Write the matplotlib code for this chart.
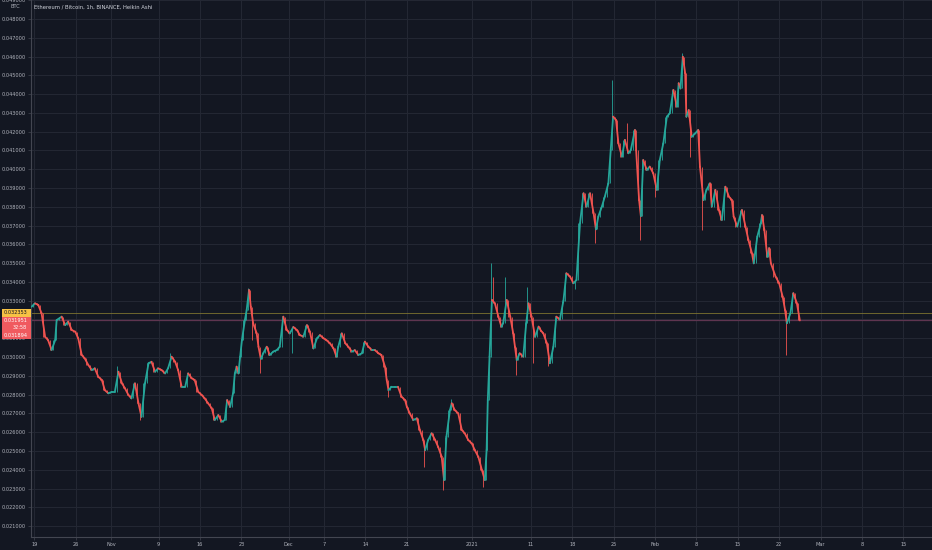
import matplotlib
matplotlib.use("Agg")
import matplotlib.pyplot as plt
import matplotlib.dates as mdates
import matplotlib.transforms as mtransforms
from matplotlib.patches import Rectangle
from matplotlib.collections import LineCollection
import numpy as np
import pandas as pd

# ---------------- data ----------------
start_date = "2020-10-19"
# time offsets (days since start) and closing prices of the sampled candles
days = [-0.5, 0.1, 0.65, 1.2, 1.8, 2.3, 2.9, 3.5, 3.75, 4.6, 5.2, 5.7, 6.3, 6.9, 7.4, 8.0, 8.5, 9.1, 9.7,
        10.2, 10.8, 11.4, 11.9, 12.5, 13.1, 13.6, 14.2, 14.8, 15.3, 15.9, 16.4, 17.0, 17.6, 18.1, 18.7,
        19.3, 19.8, 20.4, 20.9, 21.5, 22.1, 22.6, 23.2, 23.8, 24.3, 24.9, 25.5, 26.0, 26.6, 27.1, 27.7,
        28.3, 28.8, 29.4, 30.0, 30.5, 31.1, 31.7, 32.2, 32.6, 33.1, 33.6, 33.9, 34.2, 34.5, 34.8, 35.1,
        35.6, 35.9, 36.3, 36.6, 37.0, 37.6, 37.9, 38.3, 38.7, 39.3, 39.8, 40.4, 41.0, 41.5, 42.1, 42.7,
        43.2, 43.8, 44.4, 44.9, 45.5, 46.1, 46.6, 47.2, 47.8, 48.3, 48.9, 49.4, 50.0, 50.6, 51.1, 51.4,
        52.0, 52.6, 53.1, 53.7, 54.2, 54.8, 55.4, 55.9, 56.5, 57.1, 57.6, 58.2, 58.7, 59.3, 59.6, 59.9,
        60.4, 61.0, 61.5, 62.1, 62.7, 63.0, 63.5, 64.1, 64.7, 65.2, 65.8, 66.1, 66.6, 67.2, 67.8, 68.3,
        68.9, 69.3, 69.7, 70.3, 70.6, 71.1, 71.7, 72.3, 72.8, 73.4, 74.0, 74.5, 75.1, 75.7, 76.2, 76.5,
        76.7, 77.0, 77.4, 77.9, 78.5, 79.0, 79.3, 79.9, 80.5, 81.0, 81.3, 81.6, 82.1, 82.7, 83.2, 83.6,
        84.1, 84.7, 85.3, 85.7, 86.1, 86.7, 87.2, 87.8, 88.3, 88.9, 89.5, 90.0, 90.6, 91.2, 91.7, 92.3,
        92.9, 93.4, 94.0, 94.6, 95.0, 95.4, 96.0, 96.5, 97.1, 97.5, 97.9, 98.4, 98.8, 99.4, 99.9, 100.5,
        100.9, 101.6, 101.8, 102.3, 102.6, 103.0, 103.6, 104.1, 104.7, 105.3, 105.8, 106.4, 107.0, 107.5,
        108.1, 108.7, 109.0, 109.3, 109.7, 110.1, 110.3, 110.7, 111.2, 111.8, 112.3, 112.6, 113.2, 113.7,
        114.3, 114.6, 115.2, 115.8, 116.3, 116.9, 117.5, 118.0, 118.3, 118.9, 119.7, 120.3, 120.8, 121.4,
        121.7, 122.3, 122.9, 123.1, 123.5, 124.0, 124.3, 124.6, 125.4, 126.0, 126.6, 127.0, 127.3, 127.9,
        128.4, 129.0, 129.5]
closes = [0.03268, 0.03286, 0.03277, 0.03233, 0.03108, 0.03090, 0.03038, 0.03090, 0.03197, 0.03215,
          0.03170, 0.03189, 0.03144, 0.03135, 0.03100, 0.03011, 0.02993, 0.02958, 0.02931, 0.02940,
          0.02895, 0.02878, 0.02824, 0.02807, 0.02815, 0.02815, 0.02922, 0.02860, 0.02834, 0.02798,
          0.02780, 0.02860, 0.02753, 0.02682, 0.02860, 0.02967, 0.02975, 0.02922, 0.02940, 0.02931,
          0.02913, 0.02940, 0.03002, 0.02975, 0.02931, 0.02842, 0.02842, 0.02913, 0.02887, 0.02878,
          0.02815, 0.02798, 0.02780, 0.02753, 0.02727, 0.02665, 0.02691, 0.02656, 0.02665, 0.02771,
          0.02735, 0.02807, 0.02913, 0.02949, 0.02913, 0.03002, 0.03090, 0.03197, 0.03250, 0.03357,
          0.03268, 0.03180, 0.03126, 0.03055, 0.02990, 0.03020, 0.03055, 0.03011, 0.03029, 0.03037,
          0.03055, 0.03215, 0.03144, 0.03126, 0.03160, 0.03144, 0.03117, 0.03109, 0.03170, 0.03135,
          0.03046, 0.03100, 0.03117, 0.03100, 0.03090, 0.03073, 0.03046, 0.03002, 0.03055, 0.03126,
          0.03073, 0.03055, 0.03029, 0.03037, 0.03011, 0.03020, 0.03082, 0.03055, 0.03037, 0.03037,
          0.03020, 0.03011, 0.02949, 0.02878, 0.02824, 0.02842, 0.02842, 0.02842, 0.02789, 0.02771,
          0.02736, 0.02700, 0.02665, 0.02674, 0.02612, 0.02558, 0.02505, 0.02558, 0.02594, 0.02558,
          0.02522, 0.02469, 0.02345, 0.02576, 0.02718, 0.02754, 0.02718, 0.02700, 0.02612, 0.02594,
          0.02558, 0.02540, 0.02505, 0.02469, 0.02399, 0.02345, 0.02505, 0.02771, 0.03002, 0.03304,
          0.03286, 0.03215, 0.03162, 0.03180, 0.03304, 0.03215, 0.03126, 0.03055, 0.02984, 0.03020,
          0.03002, 0.03180, 0.03286, 0.03215, 0.03108, 0.03162, 0.03140, 0.03126, 0.03073, 0.02967,
          0.03055, 0.03215, 0.03200, 0.03300, 0.03446, 0.03429, 0.03393, 0.03410, 0.03712, 0.03872,
          0.03801, 0.03872, 0.03766, 0.03680, 0.03748, 0.03801, 0.03854, 0.03925, 0.04102, 0.04280,
          0.04262, 0.04138, 0.04067, 0.04156, 0.04085, 0.04102, 0.04209, 0.04102, 0.03836, 0.03750,
          0.04049, 0.03996, 0.04014, 0.03978, 0.03890, 0.04049, 0.04138, 0.04280, 0.04298, 0.04422,
          0.04333, 0.04458, 0.04430, 0.04599, 0.04511, 0.04280, 0.04315, 0.04173, 0.04191, 0.04209,
          0.04014, 0.03836, 0.03890, 0.03925, 0.03801, 0.03890, 0.03783, 0.03730, 0.03907, 0.03854,
          0.03836, 0.03748, 0.03695, 0.03783, 0.03695, 0.03623, 0.03552, 0.03499, 0.03641, 0.03712,
          0.03756, 0.03676, 0.03534, 0.03580, 0.03499, 0.03428, 0.03393, 0.03321, 0.03250, 0.03180,
          0.03233, 0.03340, 0.03286, 0.03195]
# wick extremes seen in the picture
spike_days = [14.2, 18.1, 23.2, 36.3, 37.0, 38.3, 43.8, 59.9, 66.1, 69.3, 70.6, 76.2, 77.4, 77.9,
              79.9, 81.6, 83.6, 84.7, 87.2, 91.7, 95.0, 97.9, 100.5, 102.6, 105.3, 109.7, 111.2,
              113.2, 127.3]
spike_vals = [0.02950, 0.02665, 0.03020, 0.03370, 0.03090, 0.02913, 0.03020, 0.02789, 0.02416,
              0.02292, 0.02775, 0.02310, 0.03499, 0.03428, 0.03428, 0.02904, 0.03375, 0.02967,
              0.02950, 0.03360, 0.03606, 0.04475, 0.04245, 0.03623, 0.03850, 0.04620, 0.04067,
              0.03676, 0.03011]
y_ticks = [0.021, 0.022, 0.023, 0.024, 0.025, 0.026, 0.027, 0.028, 0.029, 0.030, 0.031, 0.032,
           0.033, 0.034, 0.035, 0.036, 0.037, 0.038, 0.039, 0.040, 0.041, 0.042, 0.043, 0.044,
           0.045, 0.046, 0.047, 0.048, 0.049]
hidden_y_labels = [0.032]  # covered by the price boxes in the reference
x_tick_dates = ["2020-10-19", "2020-10-26", "2020-11-01", "2020-11-09", "2020-11-16", "2020-11-23",
                "2020-12-01", "2020-12-07", "2020-12-14", "2020-12-21", "2021-01-01", "2021-01-11",
                "2021-01-18", "2021-01-25", "2021-02-01", "2021-02-08", "2021-02-15", "2021-02-22",
                "2021-03-01", "2021-03-08", "2021-03-15"]
x_tick_labels = ["19", "26", "Nov", "9", "16", "23", "Dec", "7", "14", "21", "2021", "11", "18",
                 "25", "Feb", "8", "15", "22", "Mar", "8", "15"]
title = "Ethereum / Bitcoin, 1h, BINANCE, Heikin Ashi"
unit_label = "BTC"
mark_price = 0.032353
last_price = 0.031951
last_low = 0.031894
countdown = "32:58"

# ---------------- style ----------------
BG = "#131722"
GRID = "#242834"
TXT = "#b2b5be"
UP = "#26a69a"
DN = "#ef5350"

W, H = 932, 550
fig = plt.figure(figsize=(W / 100, H / 100), dpi=100, facecolor=BG)
ax = fig.add_axes([31 / W, 13 / H, 1 - 31 / W, 1 - 13 / H], facecolor=BG)

t0 = pd.Timestamp(start_date)
xs = mdates.date2num(t0 + pd.to_timedelta(np.array(days), unit="D"))
cl = np.array(closes)
n = len(cl)

# candle highs/lows from bodies plus observed spikes
hi = np.maximum(cl[1:], cl[:-1]).copy()
lo = np.minimum(cl[1:], cl[:-1]).copy()
sx = mdates.date2num(t0 + pd.to_timedelta(np.array(spike_days), unit="D"))
for d, v in zip(sx, spike_vals):
    i = int(np.argmin(np.abs(xs[1:] - d)))
    hi[i] = max(hi[i], v)
    lo[i] = min(lo[i], v)

cols = [UP if cl[i] >= cl[i - 1] else DN for i in range(1, n)]
# wicks
xm = (xs[1:] + xs[:-1]) / 2
ax.vlines(xm, lo, hi, colors=cols, linewidth=0.6, zorder=3)
# bodies drawn as a continuous jagged trace (open -> close of each candle)
segs = [[(xs[i - 1], cl[i - 1]), (xs[i], cl[i])] for i in range(1, n)]
ax.add_collection(LineCollection(segs, colors=cols, linewidths=1.3, zorder=4, capstyle="round"))

# limits
ax.set_xlim(mdates.date2num(t0 - pd.Timedelta(days=0.59)), mdates.date2num(t0 + pd.Timedelta(days=151.86)))
ax.set_ylim(0.02042, 0.04901)

ax.set_yticks(y_ticks)
ax.set_yticklabels(["" if any(abs(v - h) < 1e-9 for h in hidden_y_labels) else f"{v:.6f}" for v in y_ticks])
ax.set_xticks(mdates.date2num(pd.to_datetime(x_tick_dates)))
ax.set_xticklabels(x_tick_labels)
ax.tick_params(axis="both", colors="#434651", labelcolor=TXT, labelsize=3.6, length=2, width=0.5, pad=1.5)
ax.grid(True, color=GRID, linewidth=0.7, zorder=0)
ax.set_axisbelow(True)
for s in ["top", "right"]:
    ax.spines[s].set_visible(False)
for s in ["left", "bottom"]:
    ax.spines[s].set_color("#434651")
    ax.spines[s].set_linewidth(0.8)

# price lines
ax.axhline(mark_price, color="#7d7330", linewidth=0.6, zorder=2)
ax.axhline(last_price, color="#5e3550", linewidth=0.9, zorder=2)

# price boxes on the axis (offsets in pixels)
tr = mtransforms.blended_transform_factory(fig.transFigure, ax.transData)
px = 0.001 / 18.78  # data units per pixel
ax.add_patch(Rectangle((2 / W, last_price - 18.6 * px), 29 / W, 22.6 * px,
                       transform=tr, facecolor="#f05a5f", edgecolor="none", clip_on=False, zorder=10))
ax.add_patch(Rectangle((2 / W, mark_price - 3.7 * px), 29 / W, 7.4 * px, transform=tr,
                       facecolor="#f7c244", edgecolor="none", clip_on=False, zorder=11))
ax.text(16 / W, mark_price, f"{mark_price:.6f}", transform=tr, ha="center", va="center",
        fontsize=3.6, color="#131722", zorder=12, clip_on=False)
ax.text(16 / W, last_price - 0.3 * px, f"{last_price:.6f}", transform=tr, ha="center", va="center",
        fontsize=3.6, color="white", zorder=12, clip_on=False)
ax.text(20 / W, last_price - 7.3 * px, countdown, transform=tr, ha="center", va="center",
        fontsize=3.6, color="white", zorder=12, clip_on=False)
ax.text(16 / W, last_price - 15 * px, f"{last_low:.6f}", transform=tr, ha="center", va="center",
        fontsize=3.6, color="white", zorder=12, clip_on=False)

fig.text(15 / W, 1 - 7 / H, unit_label, ha="center", va="center", fontsize=3.6, color=TXT)
fig.text(34 / W, 1 - 7 / H, title, ha="left", va="center", fontsize=3.8, color="#d1d4dc")

fig.savefig("out.png", dpi=100, facecolor=BG)
